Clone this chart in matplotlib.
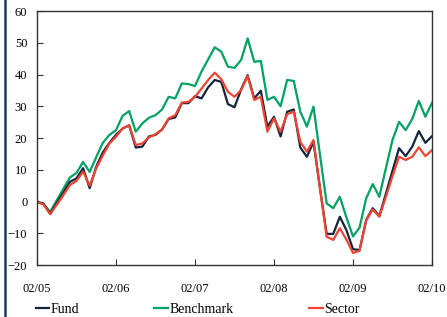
import numpy as np
import matplotlib
matplotlib.use('Agg')
import matplotlib.pyplot as plt
from matplotlib.lines import Line2D

plt.rcParams['font.family'] = ['Liberation Serif', 'DejaVu Serif']

# monthly cumulative performance, 02/05 .. 02/10 (%)
benchmark = [0, -0.8, -3.3, 0.4, 4, 7.6, 9, 12.5, 9.3, 14, 18.5, 21, 22.5,
             27, 28.5, 22, 24.6, 26.4, 27.2, 29, 33, 32.5, 37.2, 37, 36.4,
             41, 44.8, 48.6, 47.2, 42.5, 42.1, 44.6, 51.4, 44, 44.3, 32, 33,
             30, 38.3, 38, 28.3, 23.6, 29.9, 14.5, -0.6, -2.1, 1.5, -5, -11,
             -8.2, 1, 5.5, 1.5, 10.5, 19.4, 25.1, 22.5, 26, 31.7, 26.7, 31.1]
fund = [0, -0.8, -3.8, -0.5, 2.8, 6.2, 7.3, 10.5, 4.2, 11, 15.5, 18.5, 21,
        23, 24, 17, 17.3, 20.5, 21, 22.7, 26, 26.5, 31, 31, 33.2,
        32.5, 36, 38.3, 37.7, 30.7, 29.7, 35.3, 39.8, 32.5, 34.9, 23.6, 26.7,
        20.5, 28.3, 29, 17, 14.1, 18.8, 4, -10.2, -10.2, -4.8, -9, -15,
        -15.3, -5.8, -2.1, -4.6, 2.5, 9.7, 16.8, 14.3, 17.3, 22.2, 18.5, 20.6]
sector = [0, -1, -4, -1, 2, 5.2, 6.5, 9.4, 5, 10.5, 14.5, 18.3, 20.4,
          23, 24, 17.8, 18.3, 20.2, 21.2, 22.7, 26.2, 27.2, 31.2, 31.4, 33,
          35.6, 38.3, 40.6, 38.5, 34.6, 33, 35.1, 39.5, 32, 33, 22, 26.2,
          22, 27.5, 28.3, 18.8, 15.7, 19.4, 4, -11.1, -12.1, -8.4, -12, -16.2,
          -15.5, -6, -2.5, -4.8, 1.5, 8, 14.1, 13.1, 14.1, 17.1, 14.3, 16.2]
xlabels = ['02/05', '02/06', '02/07', '02/08', '02/09', '02/10']

months = np.arange(len(fund))

fig = plt.figure(figsize=(4.47, 3.17), dpi=100)
ax = fig.add_axes([0.0828, 0.164, 0.8836, 0.801])

ax.plot(months, benchmark, color='#00a261', lw=1.6, label='Benchmark')
ax.plot(months, fund, color='#15233d', lw=1.6, label='Fund')
ax.plot(months, sector, color='#ef4433', lw=1.6, label='Sector')

ax.set_xlim(0, 60)
ax.set_ylim(-20, 60)
ax.set_xticks(np.arange(0, 61, 12))
ax.set_xticklabels(xlabels)
ax.set_yticks(np.arange(-20, 61, 10))
ax.tick_params(axis='x', direction='in', length=4, pad=13, labelsize=9, color='#333333')
ax.tick_params(axis='y', direction='in', length=4, pad=7, labelsize=9, color='#333333')
for s in ax.spines.values():
    s.set_color('#333333')
    s.set_linewidth(1.0)

# legend under the plot, order Fund / Benchmark / Sector
h = {l.get_label(): l for l in ax.get_lines()}
fig.legend([h['Fund'], h['Benchmark'], h['Sector']], ['Fund', 'Benchmark', 'Sector'],
           loc='center', bbox_to_anchor=(0.442, 0.024), ncol=3, frameon=False,
           fontsize=10, handlelength=1.0, handletextpad=0.1, columnspacing=5.4)

# dark bar on the left edge
fig.add_artist(Line2D([0.012, 0.012], [0, 1], color='#1f3a5f', lw=1.8, transform=fig.transFigure))

fig.savefig('out.png', dpi=100)
